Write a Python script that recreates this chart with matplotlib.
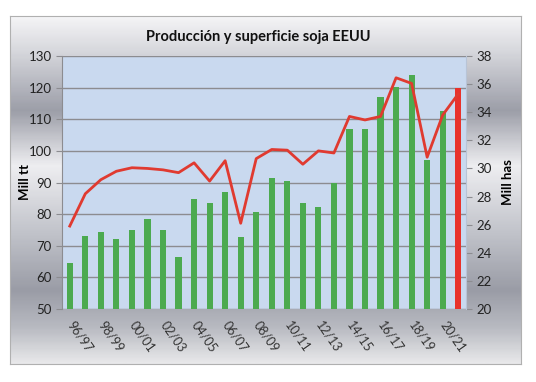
import matplotlib.pyplot as plt
import numpy as np
from matplotlib.colors import LinearSegmentedColormap

campaigns = ['96/97', '97/98', '98/99', '99/00', '00/01', '01/02', '02/03', '03/04',
             '04/05', '05/06', '06/07', '07/08', '08/09', '09/10', '10/11', '11/12',
             '12/13', '13/14', '14/15', '15/16', '16/17', '17/18', '18/19', '19/20',
             '20/21', '21/22']
produccion = [64.5, 73.1, 74.5, 72.1, 75.0, 78.5, 75.0, 66.6, 84.7, 83.4, 86.9, 72.7,
              80.6, 91.4, 90.4, 83.4, 82.1, 89.8, 106.9, 106.9, 117.1, 120.1, 123.9,
              97.1, 112.7, 119.9]
superficie = [25.9, 28.2, 29.2, 29.8, 30.05, 30.0, 29.9, 29.7, 30.4, 29.1, 30.55, 26.1,
              30.7, 31.35, 31.3, 30.3, 31.25, 31.1, 33.7, 33.45, 33.7, 36.45, 36.05,
              30.8, 33.8, 35.3]

plt.rcParams['font.family'] = ['Lato', 'DejaVu Sans']

W, H = 536, 382
fig = plt.figure(figsize=(W / 100, H / 100), dpi=100)

# metallic background of the chart box
bg = fig.add_axes([10 / W, 1 - 364 / H, 511 / W, 348 / H], zorder=-10)
stops = [(0.0, '#f4f4f6'), (0.10, '#d6d7dc'), (0.27, '#9c9ea8'), (0.43, '#eeeef1'),
         (0.62, '#c2c4cb'), (0.79, '#9a9ca6'), (0.90, '#b9bbc2'), (1.0, '#e8e8ea')]
cmap = LinearSegmentedColormap.from_list('silver', stops)
grad = np.linspace(0, 1, 300).reshape(-1, 1)
bg.imshow(grad, aspect='auto', cmap=cmap, extent=(0, 1, 0, 1), origin='upper')
bg.set_xlim(0, 1)
bg.set_ylim(0, 1)
bg.set_xticks([])
bg.set_yticks([])
for s in bg.spines.values():
    s.set_color('#b0b0b0')
    s.set_linewidth(0.8)

ax = fig.add_axes([62 / W, 1 - 309 / H, 404 / W, 253 / H])
ax.set_facecolor('#c9d9ef')
x = np.arange(len(campaigns))
colors = ['#4caa50'] * (len(campaigns) - 1) + ['#e8322b']
ax.bar(x, produccion, width=0.4, color=colors, zorder=2)
ax.set_xlim(-0.5, len(campaigns) - 0.5)
ax.set_ylim(50, 130)
ax.set_yticks(range(50, 131, 10))
ax.yaxis.grid(True, color='#8c8c90', linewidth=1.0)
ax.set_axisbelow(True)
ax.set_xticks(x[::2])
ax.set_xticklabels(campaigns[::2], rotation=-55, ha='left', va='center',
                   rotation_mode='anchor', fontsize=9, color='#333333')
ax.tick_params(axis='x', length=0, pad=10)
ax.tick_params(axis='y', length=4, color='#8c8c90', labelsize=9.5, labelcolor='#222222')
ax.set_ylabel('Mill tt', fontsize=9.5, fontweight='bold')
ax.yaxis.set_label_coords((31 - 62) / 404, 0.5)
for side in ['top', 'right', 'bottom']:
    ax.spines[side].set_visible(False)
ax.spines['left'].set_color('#8c8c90')

ax2 = ax.twinx()
ax2.plot(x, superficie, color='#e03a30', linewidth=2.0, zorder=3)
ax2.set_ylim(20, 38)
ax2.set_yticks(range(20, 39, 2))
ax2.tick_params(axis='y', length=4, color='#8c8c90', labelsize=9.5, labelcolor='#222222')
ax2.set_ylabel('Mill has', fontsize=9.5, fontweight='bold')
ax2.yaxis.set_label_coords((502 - 62) / 404, 0.5)
for side in ['top', 'left', 'bottom']:
    ax2.spines[side].set_visible(False)
ax2.spines['right'].set_color('#b8c4d6')

fig.text(258 / W, 1 - 37 / H, 'Producción y superficie soja EEUU', ha='center',
         va='center', fontsize=10.5, fontweight='bold', color='#111111')

fig.savefig('out.png', dpi=100)
